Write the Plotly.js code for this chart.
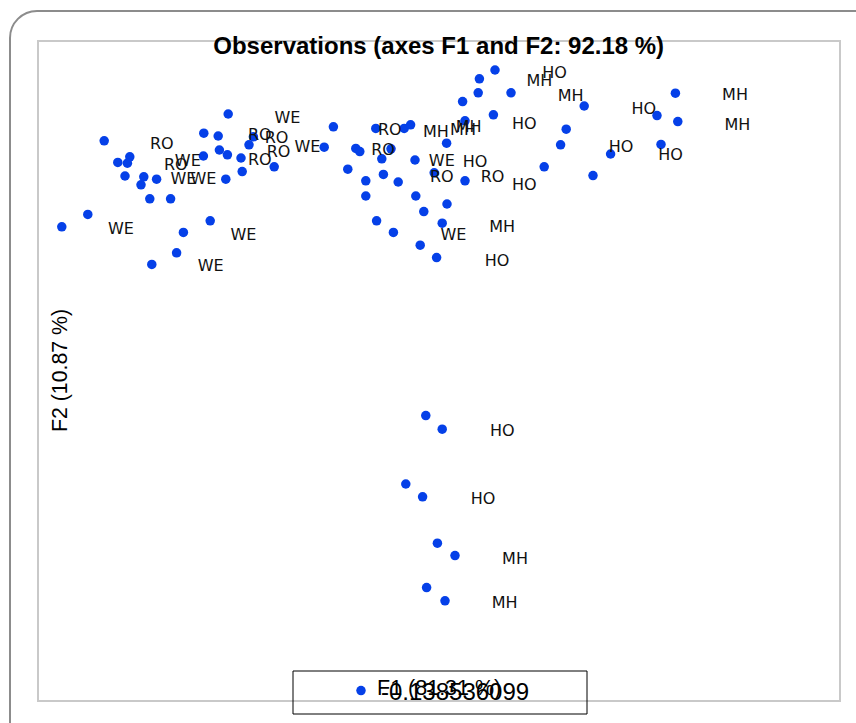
<!DOCTYPE html>
<html>
<head>
<meta charset="utf-8">
<script src="https://cdn.plot.ly/plotly-3.0.1.min.js"></script>
<style>
  html, body { margin: 0; padding: 0; width: 856px; height: 723px; overflow: hidden; background: #fff; }
  #frame { position: absolute; left: 9px; top: 10px; width: 880px; height: 740px; border: 2px solid #8c8c8c; border-radius: 28px; }
  #chart { position: absolute; left: 0; top: 0; width: 856px; height: 723px; }
</style>
</head>
<body>
<div id="frame"></div>
<div id="chart"></div>
<script>
// Observation coordinates (F1, F2)
const obsF1 = [
  -5.27, -2.64, -8.37, -5.88, -5.52, -4.64, -4.75, -2.87, -7.73, -8.03,
  -7.79, -5.89, -5.49, -5.29, -4.95, -4.12, -4.92, -5.33, -7.85, -7.38,
  -7.06, -7.45, -7.23, -6.71, -8.78, -9.43, -5.72, -6.39, -6.56, -7.18,
   0.98,  1.80,  0.59,  1.36,  0.65, -1.58, -0.87, -0.71,  0.19, -2.08,
  -1.98, -1.20, -1.43, -0.60, -2.28, -1.39, -1.83, -1.02, -0.12,  0.65,
   2.63,  3.04, -1.83, -0.58,  0.20, -0.38, -1.56,  0.08, -1.14, -0.47,
  -0.06,  1.40,  1.01,  3.63,  5.91,  5.45,  5.97,  3.18,  5.55,  4.29,
   3.85, -0.33,  0.08, -0.83, -0.41, -0.04,  0.40, -0.31,  0.15
];
const obsF2 = [
   3.15,  2.83,  2.48,  2.67,  2.60,  2.58,  2.38,  2.32,  2.08,  1.94,
   1.92,  2.10,  2.25,  2.13,  2.05,  1.83,  1.71,  1.52,  1.60,  1.58,
   1.52,  1.38,  1.03,  1.03,  0.64,  0.33,  0.48,  0.19, -0.32, -0.61,
   3.68,  3.68,  3.46,  3.13,  2.98,  2.79,  2.79,  2.88,  2.42,  2.29,
   2.21,  2.28,  2.03,  2.00,  1.77,  1.64,  1.48,  1.45,  1.68,  1.48,
   1.83,  2.38,  1.10,  1.10,  0.90,  0.71,  0.48,  0.42,  0.19, -0.13,
  -0.44,  4.25,  4.03,  3.35,  3.67,  3.11,  2.96,  2.77,  2.39,  2.15,
   1.61, -4.39, -4.73, -6.10, -6.42, -7.58, -7.89, -8.69, -9.02
];

// Label positions and texts
const labelF1 = [
  -3.79, -6.93, -6.28, -6.58, -4.48, -4.06, -3.29, -4.01, -4.48, -6.39,
  -5.89, -7.95, -4.89, -5.71, -1.23, -0.08,  0.60,  0.74, -1.40,  0.07,
   0.90,  0.07,  1.34,  2.13,  2.13,  1.58,  0.36,  1.45,  2.89,  2.51,
   3.29,  5.12,  7.40,  7.46,  4.55,  5.79,  1.58,  1.10,  1.90,  1.64
];
const labelF2 = [
   3.03,  2.38,  1.96,  1.86,  2.61,  2.52,  2.31,  2.17,  1.98,  1.50,
   1.50,  0.25,  0.11, -0.68,  2.73,  2.67,  2.73,  2.81,  2.23,  1.96,
   1.92,  1.56,  1.56,  2.88,  1.36,  0.31,  0.09, -0.54,  4.15,  3.94,
   3.57,  3.24,  3.59,  2.84,  2.31,  2.09, -4.81, -6.50, -8.00, -9.11
];
const labelText = [
  "WE", "RO", "WE", "RO", "RO", "RO", "WE", "RO", "RO", "WE",
  "WE", "WE", "WE", "WE", "RO", "MH", "MH", "MH", "RO", "WE",
  "HO", "RO", "RO", "HO", "HO", "MH", "WE", "HO", "HO", "MH",
  "MH", "HO", "MH", "MH", "HO", "HO", "HO", "HO", "MH", "MH"
];

const seriesName = "-0.138536099";
const chartTitle = "Observations (axes F1 and F2: 92.18 %)";
const xTitle = "F1 (81.31 %)";
const yTitle = "F2 (10.87 %)";

const traces = [
  {
    type: "scatter", mode: "markers",
    x: obsF1, y: obsF2, name: seriesName,
    marker: { color: "#0540e8", size: 9.5 },
    hoverinfo: "x+y"
  },
  {
    type: "scatter", mode: "text",
    x: labelF1, y: labelF2, text: labelText,
    textposition: "middle center",
    textfont: { family: "DejaVu Sans", size: 16, color: "#111" },
    showlegend: false, hoverinfo: "text"
  }
];

const axisBase = {
  showgrid: false, zeroline: false, showticklabels: false, ticks: "",
  showline: true, mirror: true, linecolor: "#c9c9c9", linewidth: 2,
  fixedrange: true
};

const layout = {
  width: 856, height: 723,
  margin: { l: 39, r: 17, t: 42, b: 23, pad: 0, autoexpand: false },
  paper_bgcolor: "rgba(0,0,0,0)",
  plot_bgcolor: "rgba(0,0,0,0)",
  font: { family: "Liberation Sans, Arial, sans-serif", color: "#000" },
  title: {
    text: "<b>" + chartTitle + "</b>",
    font: { family: "Liberation Sans, Arial, sans-serif", size: 24, color: "#000" },
    x: 0.5125, xanchor: "center", xref: "container",
    y: 1 - 46 / 723, yanchor: "middle", yref: "container",
    automargin: false
  },
  xaxis: Object.assign({ range: [-10, 10] }, axisBase),
  yaxis: Object.assign({ range: [-11.5, 4.95] }, axisBase),
  showlegend: true,
  legend: {
    x: (341 - 39) / 800, xanchor: "left", y: (700 - 691) / 658, yanchor: "middle",
    bgcolor: "rgba(0,0,0,0)", borderwidth: 0,
    font: { family: "Liberation Sans, Arial, sans-serif", size: 24, color: "#000" }
  },
  shapes: [
    {
      type: "rect", xref: "paper", yref: "paper",
      x0: (293 - 39) / 800, x1: (587 - 39) / 800,
      y0: (700 - 714) / 658, y1: (700 - 671) / 658,
      line: { color: "#000", width: 1 }, fillcolor: "rgba(0,0,0,0)"
    }
  ],
  annotations: [
    {
      text: xTitle, xref: "paper", yref: "paper",
      x: (439 - 39) / 800, y: (700 - 688) / 658, xanchor: "center", yanchor: "middle",
      showarrow: false,
      font: { family: "Liberation Sans, Arial, sans-serif", size: 21.5, color: "#000" }
    },
    {
      text: yTitle, xref: "paper", yref: "paper",
      x: (60 - 39) / 800, y: (700 - 371) / 658, xanchor: "center", yanchor: "middle",
      textangle: -90, showarrow: false,
      font: { family: "Liberation Sans, Arial, sans-serif", size: 21.3, color: "#000" }
    }
  ]
};

Plotly.newPlot("chart", traces, layout, { displayModeBar: false });
</script>
</body>
</html>
